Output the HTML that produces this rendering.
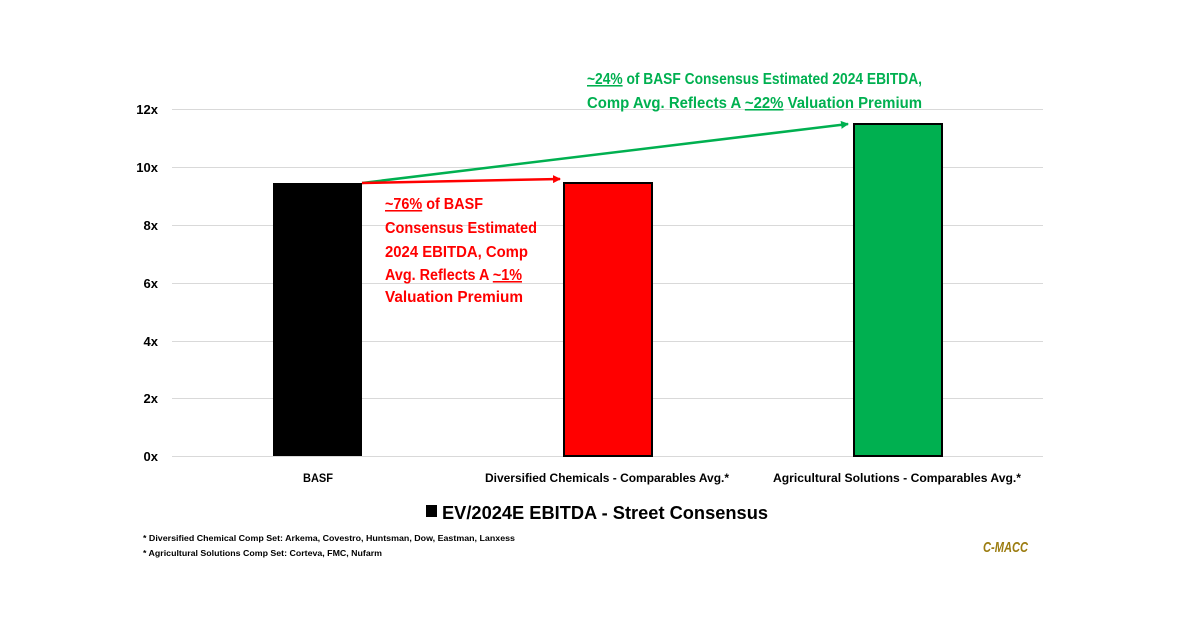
<!DOCTYPE html>
<html><head><style>body{margin:0;background:#fff}svg{display:block}text{font-family:"Liberation Sans",sans-serif;font-weight:bold}</style></head><body>
<svg width="1200" height="627" viewBox="0 0 1200 627" xmlns="http://www.w3.org/2000/svg">
<defs>
<marker id="ag" markerWidth="8" markerHeight="8" refX="7" refY="4" orient="auto" markerUnits="userSpaceOnUse"><path d="M0,0 L8,4 L0,8 z" fill="#00b050"/></marker>
<marker id="ar" markerWidth="8" markerHeight="8" refX="7" refY="4" orient="auto" markerUnits="userSpaceOnUse"><path d="M0,0 L8,4 L0,8 z" fill="#ff0000"/></marker>
</defs>
<g stroke="#d9d9d9" stroke-width="1">
<line x1="172" y1="109.5" x2="1043" y2="109.5"/><line x1="172" y1="167.5" x2="1043" y2="167.5"/><line x1="172" y1="225.5" x2="1043" y2="225.5"/><line x1="172" y1="283.5" x2="1043" y2="283.5"/><line x1="172" y1="341.5" x2="1043" y2="341.5"/><line x1="172" y1="398.5" x2="1043" y2="398.5"/><line x1="172" y1="456.5" x2="1043" y2="456.5"/>
</g>
<g font-size="13" text-anchor="end" fill="#000">
<text x="158" y="114">12x</text><text x="158" y="172">10x</text><text x="158" y="230">8x</text><text x="158" y="288">6x</text><text x="158" y="346">4x</text><text x="158" y="403">2x</text><text x="158" y="461">0x</text>
</g>
<rect x="273" y="183" width="89" height="273" fill="#000"/>
<rect x="564" y="183" width="88" height="273" fill="#ff0000" stroke="#000" stroke-width="2"/>
<rect x="854" y="124" width="88" height="332" fill="#00b050" stroke="#000" stroke-width="2"/>
<line x1="362" y1="183" x2="848" y2="124" stroke="#00b050" stroke-width="2.5" marker-end="url(#ag)"/>
<line x1="362" y1="183" x2="560" y2="179" stroke="#ff0000" stroke-width="2.5" marker-end="url(#ar)"/>
<g fill="#00b050" font-size="15.5">
<text x="587" y="84" textLength="335" lengthAdjust="spacingAndGlyphs"><tspan text-decoration="underline">~24%</tspan> of BASF Consensus Estimated 2024 EBITDA,</text>
<text x="587" y="108" textLength="335" lengthAdjust="spacingAndGlyphs">Comp Avg. Reflects A <tspan text-decoration="underline">~22%</tspan> Valuation Premium</text>
</g>
<g fill="#ff0000" font-size="15.5">
<text x="385" y="209" textLength="98" lengthAdjust="spacingAndGlyphs"><tspan text-decoration="underline">~76%</tspan> of BASF</text>
<text x="385" y="233" textLength="152" lengthAdjust="spacingAndGlyphs">Consensus Estimated</text>
<text x="385" y="257" textLength="143" lengthAdjust="spacingAndGlyphs">2024 EBITDA, Comp</text>
<text x="385" y="280" textLength="137" lengthAdjust="spacingAndGlyphs">Avg. Reflects A <tspan text-decoration="underline">~1%</tspan></text>
<text x="385" y="302" textLength="138" lengthAdjust="spacingAndGlyphs">Valuation Premium</text>
</g>
<g font-size="12" fill="#000">
<text x="303" y="482" textLength="30" lengthAdjust="spacingAndGlyphs">BASF</text>
<text x="485" y="482" textLength="244" lengthAdjust="spacingAndGlyphs">Diversified Chemicals - Comparables Avg.*</text>
<text x="773" y="482" textLength="248" lengthAdjust="spacingAndGlyphs">Agricultural Solutions - Comparables Avg.*</text>
</g>
<rect x="426" y="505" width="11" height="12" fill="#000"/>
<text x="442" y="519" font-size="18" textLength="326" lengthAdjust="spacingAndGlyphs">EV/2024E EBITDA - Street Consensus</text>
<g font-size="8.5" fill="#000">
<text x="143" y="541" textLength="372" lengthAdjust="spacingAndGlyphs">* Diversified Chemical Comp Set: Arkema, Covestro, Huntsman, Dow, Eastman, Lanxess</text>
<text x="143" y="556" textLength="239" lengthAdjust="spacingAndGlyphs">* Agricultural Solutions Comp Set: Corteva, FMC, Nufarm</text>
</g>
<text x="983" y="552" font-size="15" font-style="italic" fill="#9c7d12" textLength="45" lengthAdjust="spacingAndGlyphs">C-MACC</text>
</svg>
</body></html>
